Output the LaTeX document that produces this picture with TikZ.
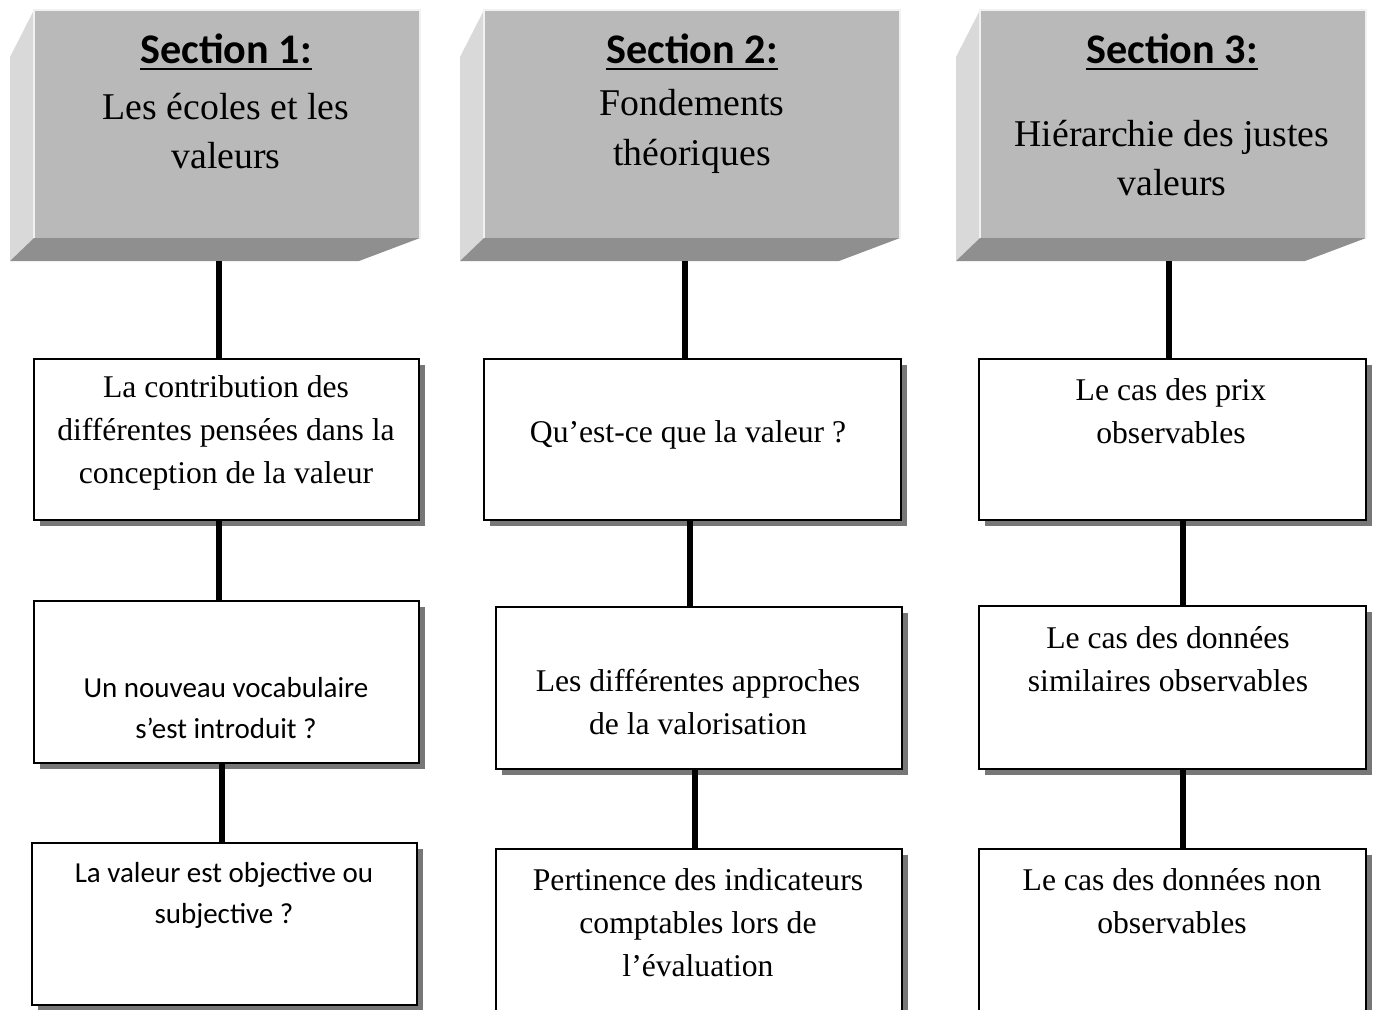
\documentclass[tikz,border=0pt]{standalone}
\usepackage{fontspec}
\usetikzlibrary{fit,shadows}
\newfontfamily\tnr{Liberation Serif}
\newfontfamily\calib{Carlito}
\definecolor{frontgray}{HTML}{B9B9B9}
\definecolor{sidegray}{HTML}{D9D9D9}
\definecolor{basegray}{HTML}{8F8F8F}
\definecolor{shadowgray}{HTML}{777777}
\newcommand\sectitle[1]{\setbox0\hbox{#1}\rlap{\rule[-4pt]{\wd0}{1.3pt}}\box0}
\tikzset{
  cell/.style={draw, line width=1.4pt, fill=white, inner sep=0pt,
    drop shadow={shadow xshift=0.12cm, shadow yshift=-0.12cm, fill=shadowgray, opacity=1}},
  celltxt/.style={align=center, font=\tnr\fontsize{18}{24.4}\selectfont},
  calibtxt/.style={align=center, font=\calib\fontsize{16.5}{23.3}\selectfont},
  headtxt/.style={anchor=base, font=\calib\bfseries\fontsize{24}{29}\selectfont},
  subtxt/.style={align=center, font=\tnr\fontsize{21.5}{28.4}\selectfont},
  link/.style={line width=3.4pt}
}
\begin{document}
\begin{tikzpicture}[x=0.02cm, y=-0.02cm]
    \useasboundingbox (0,0) rectangle (1374,1009);
    % header blocks: side face left, front left, front right
    \foreach \l/\f/\r in {10/34/420, 460/484/900, 956/980/1366} {
      \fill[sidegray] (\f,10) -- (\l,57) -- (\l,261) -- (\f,238) -- cycle;
      \fill[basegray] (\l,261) -- (\f,238) -- (\r,238) -- (\r-61,261) -- cycle;
      \fill[frontgray] (\f,10) rectangle (\r,238);
      \draw[white!80!frontgray, line width=0.6pt] (\f,238) -- (\f,10) -- (\r,10) -- (\r,238);
    }
    \node[headtxt] (s1) at (226,63) {\sectitle{Section 1:}};
    \node[headtxt] (s2) at (692,63) {\sectitle{Section 2:}};
    \node[headtxt] (s3) at (1172,63) {\sectitle{Section 3:}};
    \node[subtxt] (d1) at (226,131) {Les écoles et les\\valeurs};
    \node[subtxt] (d2) at (692,131) {Fondements\\théoriques};
    \node[subtxt] (d3) at (1172,158) {Hiérarchie des justes\\valeurs};
    \coordinate (h1) at (219,261);
    \coordinate (h2) at (685,261);
    \coordinate (h3) at (1169,261);

    % boxes
    \node[cell, fit={(34,359) (419,520)}] (c11) {};
    \node[cell, fit={(34,601) (419,763)}] (c21) {};
    \node[cell, fit={(32,843) (417,1005)}] (c31) {};
    \node[cell, fit={(484,359) (901,520)}] (c12) {};
    \node[cell, fit={(496,607) (902,769)}] (c22) {};
    \node[cell, fit={(496,849) (902,1040)}] (c32) {};
    \node[cell, fit={(979,359) (1366,520)}] (c13) {};
    \node[cell, fit={(979,606) (1366,769)}] (c23) {};
    \node[cell, fit={(979,849) (1366,1040)}] (c33) {};

    \node[celltxt] (t11) at (226,433) {La contribution des\\différentes pensées dans la\\conception de la valeur};
    \node[calibtxt] (t21) at (226,708) {Un nouveau vocabulaire\\s’est introduit ?};
    \node[calibtxt] (t31) at (224,895) {La valeur est objective ou\\subjective ?};
    \node[celltxt] (t12) at (688,435) {Qu’est-ce que la valeur ?};
    \node[celltxt] (t22) at (698,702) {Les différentes approches\\de la valorisation};
    \node[celltxt] (t32) at (698,923) {Pertinence des indicateurs\\comptables lors de\\l’évaluation};
    \node[celltxt] (t13) at (1171,411) {Le cas des prix\\observables};
    \node[celltxt] (t23) at (1168,659) {Le cas des données\\similaires observables};
    \node[celltxt] (t33) at (1172,901) {Le cas des données non\\observables};

    % connectors
    \draw[link] (h1) -- (h1 |- c11.north);
    \draw[link] (h2) -- (h2 |- c12.north);
    \draw[link] (h3) -- (h3 |- c13.north);
    \foreach \a/\b/\x in {c11/c21/219, c21/c31/222, c12/c22/690, c22/c32/695, c13/c23/1183, c23/c33/1183}
      \draw[link] (\a.south -| \x,0) -- (\b.north -| \x,0);
\end{tikzpicture}
\end{document}
